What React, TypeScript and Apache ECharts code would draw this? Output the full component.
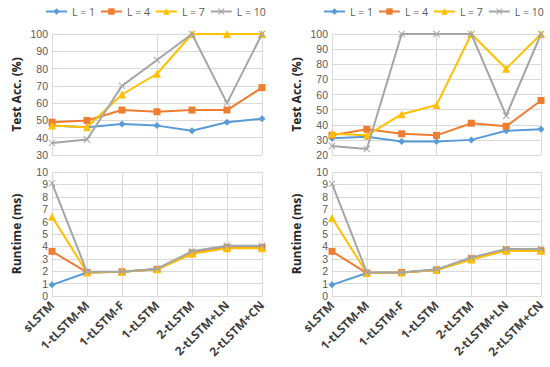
import React, { useEffect, useRef } from "react";
import * as echarts from "echarts";

const categories = ["sLSTM", "1-tLSTM-M", "1-tLSTM-F", "1-tLSTM", "2-tLSTM", "2-tLSTM+LN", "2-tLSTM+CN"];
const seriesNames = ["L = 1", "L = 4", "L = 7", "L = 10"];
const colors = ["#5B9BD5", "#ED7D31", "#FFC000", "#A5A5A5"];

// Left panel: test accuracy (%)
const accLeftL1 = [47, 46, 48, 47, 44, 49, 51];
const accLeftL4 = [49, 50, 56, 55, 56, 56, 69];
const accLeftL7 = [47, 46, 65, 77, 100, 100, 100];
const accLeftL10 = [37, 39, 70, 85, 100, 60, 100];
// Left panel: runtime (ms)
const rtLeftL1 = [0.9, 1.9, 1.95, 2.15, 3.5, 3.95, 3.95];
const rtLeftL4 = [3.6, 1.9, 1.95, 2.15, 3.45, 3.9, 3.9];
const rtLeftL7 = [6.4, 1.9, 1.95, 2.15, 3.4, 3.85, 3.85];
const rtLeftL10 = [9.1, 1.95, 1.95, 2.2, 3.6, 4.05, 4.05];
// Right panel: test accuracy (%)
const accRightL1 = [31, 32, 29, 29, 30, 36, 37];
const accRightL4 = [33, 37, 34, 33, 41, 39, 56];
const accRightL7 = [34, 33, 47, 53, 100, 77, 100];
const accRightL10 = [26, 24, 100, 100, 100, 46, 100];
// Right panel: runtime (ms)
const rtRightL1 = [0.9, 1.85, 1.9, 2.1, 3.0, 3.7, 3.7];
const rtRightL4 = [3.6, 1.85, 1.9, 2.1, 3.0, 3.7, 3.65];
const rtRightL7 = [6.3, 1.85, 1.9, 2.1, 2.95, 3.65, 3.65];
const rtRightL10 = [9.05, 1.9, 1.9, 2.15, 3.1, 3.8, 3.8];

const crossPath = "path://M0,1L1,0L5,4L9,0L10,1L6,5L10,9L9,10L5,6L1,10L0,9L4,5Z";
const symbols = ["diamond", "rect", "triangle", crossPath];
const symbolSizes = [7, 7, 8, 7];

const FONT = "Open Sans";

export default function App() {
  const ref = useRef<HTMLDivElement>(null);
  useEffect(() => {
    if (!ref.current) return;
    const chart = echarts.init(ref.current, undefined, { renderer: "svg" });

    const panels = [
      [accLeftL1, accLeftL4, accLeftL7, accLeftL10],
      [rtLeftL1, rtLeftL4, rtLeftL7, rtLeftL10],
      [accRightL1, accRightL4, accRightL7, accRightL10],
      [rtRightL1, rtRightL4, rtRightL7, rtRightL10],
    ];

    const grids = [
      { left: 52, width: 210, top: 34, height: 121 },
      { left: 52, width: 210, top: 172, height: 124 },
      { left: 332, width: 209, top: 34, height: 121 },
      { left: 332, width: 209, top: 172, height: 124 },
    ];

    const gridLine = { show: true, lineStyle: { color: "#D9D9D9", width: 1 } };
    const xAxes = grids.map((_, i) => ({
      type: "category",
      gridIndex: i,
      data: categories,
      boundaryGap: false,
      axisLine: { show: true, lineStyle: { color: "#D9D9D9" } },
      axisTick: { show: false },
      splitLine: gridLine,
      axisLabel:
        i % 2 === 1
          ? {
              show: true,
              rotate: 45,
              interval: 0,
              margin: 7,
              color: "#404040",
              fontSize: 12,
              fontWeight: "bold",
              fontFamily: FONT,
            }
          : { show: false },
    }));

    const yCfg = [
      { min: 30, max: 100, interval: 10, name: "Test Acc. (%)" },
      { min: 0, max: 10, interval: 1, name: "Runtime (ms)" },
      { min: 20, max: 100, interval: 10, name: "Test Acc. (%)" },
      { min: 0, max: 10, interval: 1, name: "Runtime (ms)" },
    ];
    const yAxes = yCfg.map((c, i) => ({
      type: "value",
      gridIndex: i,
      min: c.min,
      max: c.max,
      interval: c.interval,
      name: c.name,
      nameLocation: "middle",
      nameRotate: 90,
      nameGap: 30,
      nameTextStyle: { color: "#262626", fontSize: 12, fontWeight: "bold", fontFamily: FONT },
      axisLine: { show: false },
      axisTick: { show: false },
      splitLine: gridLine,
      axisLabel: { color: "#595959", fontSize: 10.5, lineHeight: 11, fontFamily: "Liberation Sans", margin: 4 },
    }));

    const series: any[] = [];
    panels.forEach((panel, p) => {
      panel.forEach((vals, s) => {
        series.push({
          type: "line",
          name: seriesNames[s],
          xAxisIndex: p,
          yAxisIndex: p,
          data: vals,
          symbol: symbols[s],
          symbolSize: symbolSizes[s],
          symbolKeepAspect: true,
          showAllSymbol: true,
          lineStyle: { color: colors[s], width: 2 },
          itemStyle: { color: colors[s] },
          z: 2 + s,
        });
      });
    });

    const legendBase = {
      data: seriesNames,
      top: 1,
      width: 240,
      itemWidth: 21,
      itemHeight: 8,
      itemGap: 5,
      textStyle: { color: "#595959", fontSize: 10.5, fontFamily: FONT },
    };

    chart.setOption({
      animation: false,
      backgroundColor: "#ffffff",
      color: colors,
      legend: [
        { ...legendBase, left: 40 },
        { ...legendBase, left: 318 },
      ],
      grid: grids,
      xAxis: xAxes,
      yAxis: yAxes,
      series,
    });
    return () => chart.dispose();
  }, []);
  return <div ref={ref} style={{ width: 550, height: 367, position: "absolute", left: 0, top: 0 }} />;
}
